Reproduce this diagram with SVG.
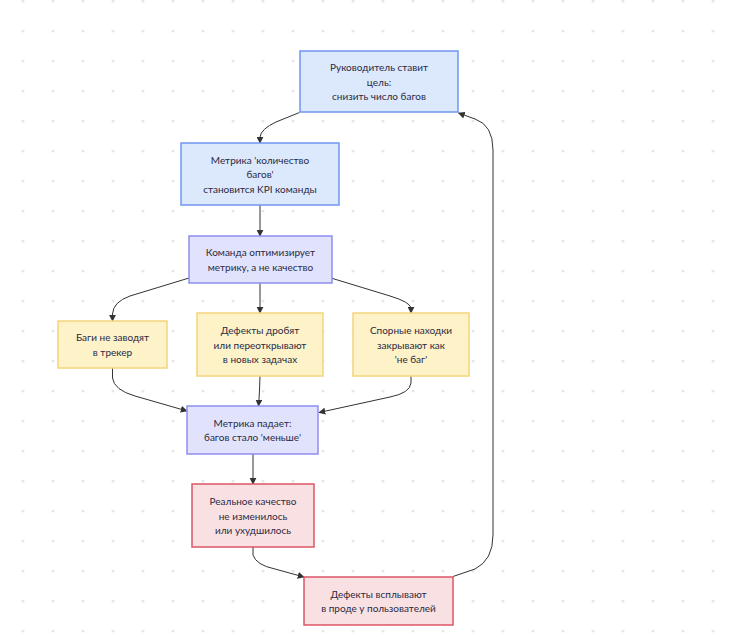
<svg xmlns="http://www.w3.org/2000/svg" width="737" height="643" viewBox="0 0 737 643">
<defs>
<pattern id="dots" x="0" y="0" width="30" height="30" patternUnits="userSpaceOnUse">
<circle cx="23" cy="1" r="1.5" fill="#e6e6e6"/>
</pattern>
<marker id="arr" viewBox="0 0 10 10" refX="9" refY="5" markerWidth="7" markerHeight="7" orient="auto" markerUnits="userSpaceOnUse">
<path d="M0,0 L10,5 L0,10 z" fill="#333"/>
</marker>
<style>
.n rect{stroke-width:1.5}
.blue rect{fill:#dce8fc;stroke:#6f97ef}
.lav rect{fill:#e1e3fc;stroke:#8e8ef0}
.yel rect{fill:#fdf2c8;stroke:#f3d47c}
.red rect{fill:#f9e1e3;stroke:#dc5566}
text{font-family:Lato,"DejaVu Sans",sans-serif;font-size:10px;fill:#2a2a44;text-anchor:middle;dominant-baseline:central}
.e path{fill:none;stroke:#333;stroke-width:1;marker-end:url(#arr)}
</style>
</defs>
<rect width="737" height="643" fill="#fff"/>
<rect width="737" height="643" fill="url(#dots)"/>
<g id="edges" class="e">
<path d="M299.5,112.5 L276,122 Q261,129 260,137 L260,143"/>
<path d="M260,205 L260,236"/>
<path d="M189,278 L130,296 Q113,302 112.5,314 L112.5,321"/>
<path d="M260,283 L260,313"/>
<path d="M331,278 L390,296 Q410,302 411,308 L411,313"/>
<path d="M112.5,368 L112.5,378 Q114,390 135,396 L187,411"/>
<path d="M260,376 L259.5,390 Q259,400 258.5,406"/>
<path d="M411,376 L411,383 Q410,393 390,397 L319,412.5"/>
<path d="M253,454 L253,484"/>
<path d="M253,547 L253,555 Q256,565 275,569 L304,577"/>
<path d="M453,576.5 L475,569 Q493,560 493,535 L493,150 Q493,125 475,119 L458.5,113"/>
</g>
<g id="n1" class="n blue"><rect x="300" y="51" width="158" height="61"/><text x="379" y="67">Руководитель ставит</text><text x="379" y="81.5">цель:</text><text x="379" y="96">снизить число багов</text></g>
<g id="n2" class="n blue"><rect x="181" y="143" width="158" height="62"/><text x="260" y="159.5">Метрика 'количество</text><text x="260" y="174">багов'</text><text x="260" y="188.5">становится KPI команды</text></g>
<g id="n3" class="n lav"><rect x="189" y="236" width="143" height="47"/><text x="260.5" y="252.3">Команда оптимизирует</text><text x="260.5" y="266.8">метрику, а не качество</text></g>
<g id="n4" class="n yel"><rect x="58" y="321" width="109" height="47"/><text x="112.5" y="337.3">Баги не заводят</text><text x="112.5" y="351.8">в трекер</text></g>
<g id="n5" class="n yel"><rect x="197" y="313" width="126" height="63"/><text x="260" y="330">Дефекты дробят</text><text x="260" y="344.5">или переоткрывают</text><text x="260" y="359">в новых задачах</text></g>
<g id="n6" class="n yel"><rect x="353" y="313" width="116" height="63"/><text x="411" y="330">Спорные находки</text><text x="411" y="344.5">закрывают как</text><text x="411" y="359">'не баг'</text></g>
<g id="n7" class="n lav"><rect x="187" y="406" width="131" height="48"/><text x="252.5" y="422.8">Метрика падает:</text><text x="252.5" y="437.3">багов стало 'меньше'</text></g>
<g id="n8" class="n red"><rect x="192" y="484" width="122" height="63"/><text x="253" y="501">Реальное качество</text><text x="253" y="515.5">не изменилось</text><text x="253" y="530">или ухудшилось</text></g>
<g id="n9" class="n red"><rect x="304" y="577" width="149" height="48"/><text x="378.5" y="593.8">Дефекты всплывают</text><text x="378.5" y="608.3">в проде у пользователей</text></g>
</svg>
